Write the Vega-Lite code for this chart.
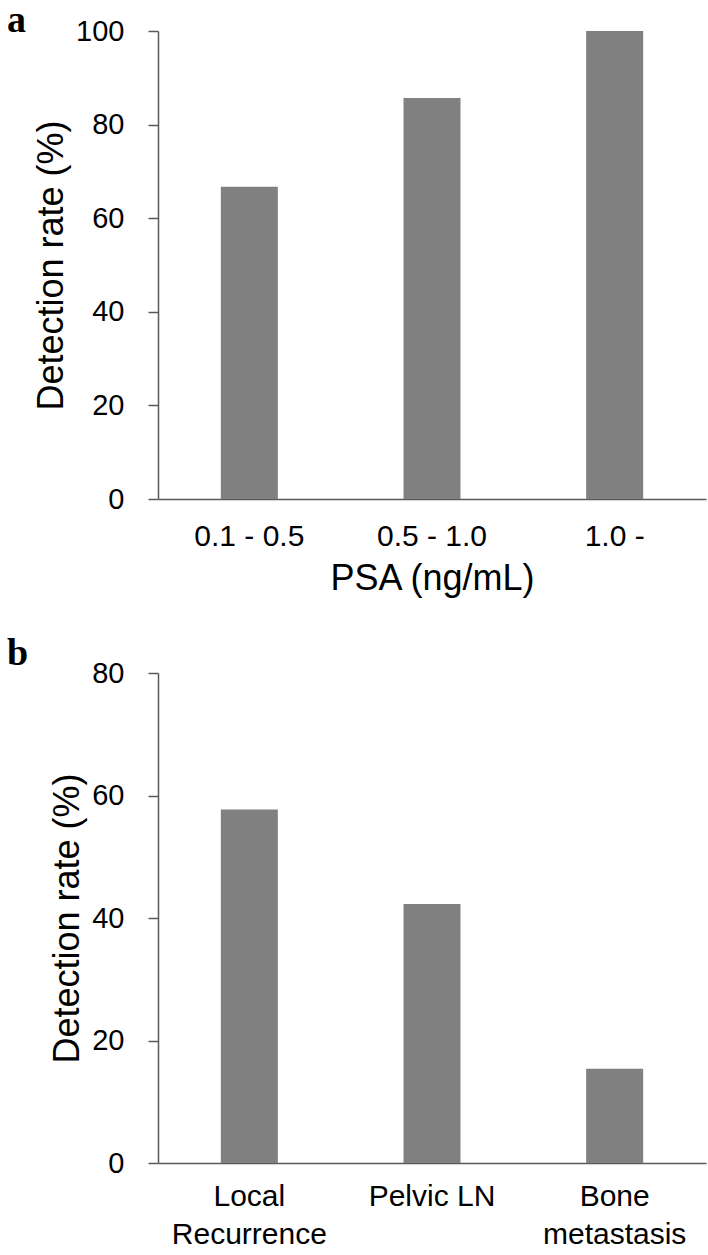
{
  "$schema": "https://vega.github.io/schema/vega-lite/v6.json",
  "padding": {"left": 7, "top": 2, "right": 2, "bottom": 2},
  "bounds": "flush",
  "spacing": 174,
  "config": {
    "view": {"stroke": null},
    "font": "Liberation Sans",
    "axis": {
      "labelFont": "Liberation Sans",
      "titleFont": "Liberation Sans",
      "labelColor": "#000000",
      "titleColor": "#000000",
      "titleFontWeight": "normal",
      "domainColor": "#595959",
      "tickColor": "#595959",
      "domainWidth": 1.5,
      "tickWidth": 1.5,
      "grid": false
    },
    "title": {
      "font": "Liberation Serif",
      "fontWeight": "bold",
      "fontSize": 38,
      "anchor": "start",
      "frame": "group",
      "color": "#000000",
      "baseline": "alphabetic",
      "offset": 0
    }
  },
  "vconcat": [
    {
      "title": {"text": "a", "dx": -151, "dy": 27},
      "width": 548,
      "height": 468,
      "data": {"values": [
        {"psa": "0.1 - 0.5", "rate": 66.7},
        {"psa": "0.5 - 1.0", "rate": 85.7},
        {"psa": "1.0 -", "rate": 100}
      ]},
      "mark": {"type": "bar", "size": 57, "color": "#808080"},
      "encoding": {
        "x": {
          "field": "psa", "type": "nominal", "sort": null,
          "scale": {"paddingInner": 0, "paddingOuter": 0},
          "axis": {"title": "PSA (ng/mL)", "labelAngle": 0, "ticks": false, "labelFontSize": 30, "titleFontSize": 36, "labelPadding": 22, "titlePadding": 10}
        },
        "y": {
          "field": "rate", "type": "quantitative",
          "scale": {"domain": [0, 100]},
          "axis": {"title": "Detection rate (%)", "values": [0, 20, 40, 60, 80, 100], "tickSize": 10, "labelFontSize": 29, "titleFontSize": 36, "labelPadding": 24, "titlePadding": 5}
        }
      }
    },
    {
      "title": {"text": "b", "dx": -151, "dy": 18},
      "width": 548,
      "height": 490,
      "data": {"values": [
        {"site": "Local Recurrence", "rate": 57.7},
        {"site": "Pelvic LN", "rate": 42.3},
        {"site": "Bone metastasis", "rate": 15.4}
      ]},
      "mark": {"type": "bar", "size": 57, "color": "#808080"},
      "encoding": {
        "x": {
          "field": "site", "type": "nominal", "sort": null,
          "scale": {"paddingInner": 0, "paddingOuter": 0},
          "axis": {"title": null, "labelAngle": 0, "ticks": false, "labelFontSize": 30, "labelPadding": 18, "labelLineHeight": 38,
            "labelExpr": "datum.value == 'Local Recurrence' ? ['Local', 'Recurrence'] : datum.value == 'Bone metastasis' ? ['Bone', 'metastasis'] : datum.value"}
        },
        "y": {
          "field": "rate", "type": "quantitative",
          "scale": {"domain": [0, 80]},
          "axis": {"title": "Detection rate (%)", "values": [0, 20, 40, 60, 80], "tickSize": 10, "labelFontSize": 29, "titleFontSize": 36, "labelPadding": 24, "titlePadding": 5}
        }
      }
    }
  ]
}
